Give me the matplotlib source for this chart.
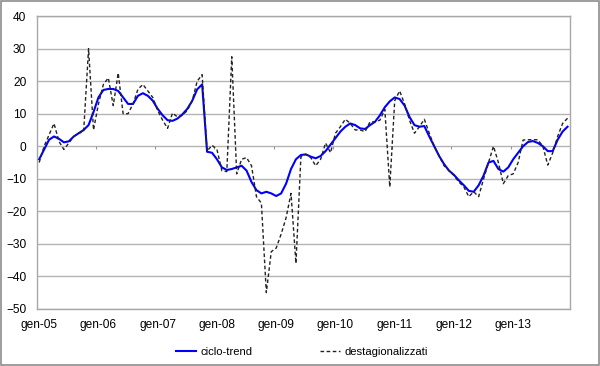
import numpy as np
import matplotlib
matplotlib.use("Agg")
import matplotlib.pyplot as plt
from matplotlib.patches import Rectangle

plt.rcParams['font.family'] = ['Liberation Sans', 'DejaVu Sans']

# etichette anni (una ogni 12 mesi, gen-05 ... gen-13)
year_labels = ["gen-05", "gen-06", "gen-07", "gen-08", "gen-09",
               "gen-10", "gen-11", "gen-12", "gen-13"]

# ciclo-trend, mensile gen-05 .. dic-13
ciclo_trend = [
    -4, -1, 2, 3, 2.3, 1.2, 1.5, 3, 4, 5, 6.5, 10.5,            # 2005
    15, 17.3, 17.6, 17.6, 17, 15, 13, 13, 15.5, 16.3, 15.5, 14,  # 2006
    11.5, 9.5, 8, 7.8, 8.5, 9.8, 11.5, 14, 17.5, 19, -1.7, -2,   # 2007
    -4, -6.5, -7.3, -7, -6.5, -6, -7.5, -11, -13.5, -14.5, -14, -14.5,  # 2008
    -15.3, -14.5, -11.5, -7, -4, -2.7, -2.5, -3.2, -3.7, -3, -1.5, 0.5,  # 2009
    2.5, 4.5, 6, 7, 6.5, 5.5, 5.3, 6.5, 7.5, 9.5, 12, 13.8,      # 2010
    15, 14.5, 12.5, 9, 6.5, 6, 6.2, 3, 0, -3, -5.5, -7.5,        # 2011
    -8.8, -10.5, -12, -13.7, -14, -12, -9, -5, -4.5, -7, -7.8, -6.5,  # 2012
    -4, -2, 0, 1.3, 1.6, 1, 0, -1.5, -1.5, 2, 4.5, 6,            # 2013
]

# destagionalizzati, mensile gen-05 .. dic-13
destagionalizzati = [
    -5, 0, 3.5, 7, 1.5, -1, 1, 3, 4, 4.5, 30, 5,                 # 2005
    13, 19, 21, 12.5, 22.5, 10, 10, 13, 17.5, 19, 17, 15,        # 2006
    11, 8, 5.5, 10.2, 9, 9.5, 11, 14, 20, 22, -1.5, 0.3,         # 2007
    -1, -7.5, -7.8, 27.5, -8.5, -4, -3.5, -6, -15.5, -17.5, -45, -32.4,  # 2008
    -31.3, -27, -22, -14.5, -36, -3.3, -2.5, -3.5, -6, -4, 1, -2,  # 2009
    4, 6, 8.3, 7, 5, 5, 4.5, 7.5, 7.5, 8, 11.3, -12.5,           # 2010
    14, 17, 13, 8, 4, 6, 8.3, 4, 0, -3, -6, -7.5,                # 2011
    -9, -11, -12.5, -15.5, -14, -15.5, -10, -5, 0, -5, -11.5, -9,  # 2012
    -8.5, -5, 1.9, 2, 2, 2, 0, -5.8, -2, 3, 7, 8.6,              # 2013
]

x = np.arange(len(ciclo_trend))

fig = plt.figure(figsize=(6.0, 3.66), dpi=100)
ax = fig.add_axes([0.0612, 0.156, 0.8888, 0.8])

ax.plot(x, ciclo_trend, color="#0000ff", lw=1.5, label="ciclo-trend", zorder=3)
ax.plot(x, destagionalizzati, color="#222222", lw=1.0, dashes=(2.6, 1.8),
        label="destagionalizzati", zorder=4)

ax.set_xlim(-0.5, len(x) - 0.5)
ax.set_ylim(-50, 40)
ax.set_yticks(np.arange(-50, 41, 10))
ax.yaxis.grid(True, color="#b4b4b4", lw=1.0)
ax.set_axisbelow(True)

year_pos = np.arange(0, len(x), 12)
ax.set_xticks(year_pos)
ax.set_xticklabels(year_labels)
ax.tick_params(axis="x", length=0, pad=7, labelsize=8.6)
ax.tick_params(axis="y", length=0, pad=7.5, labelsize=8.6)

# piccole tacche sull'asse delle categorie (che incrocia a 0)
ax.vlines(year_pos[1:] - 0.5, -1, 0, color="#999999", lw=0.8, zorder=2)

for s in ax.spines.values():
    s.set_color("#a8a8a8")
    s.set_linewidth(1.0)

fig.legend(loc="center", bbox_to_anchor=(0.503, 0.038), ncol=2, frameon=False,
           fontsize=8.1, handlelength=1.8, handletextpad=0.35, columnspacing=6.0)

fig.patches.append(Rectangle((0.002, 0.003), 0.996, 0.994, transform=fig.transFigure,
                             fill=False, edgecolor="#8c8c8c", lw=1.2))

fig.savefig("out.png", dpi=100)
